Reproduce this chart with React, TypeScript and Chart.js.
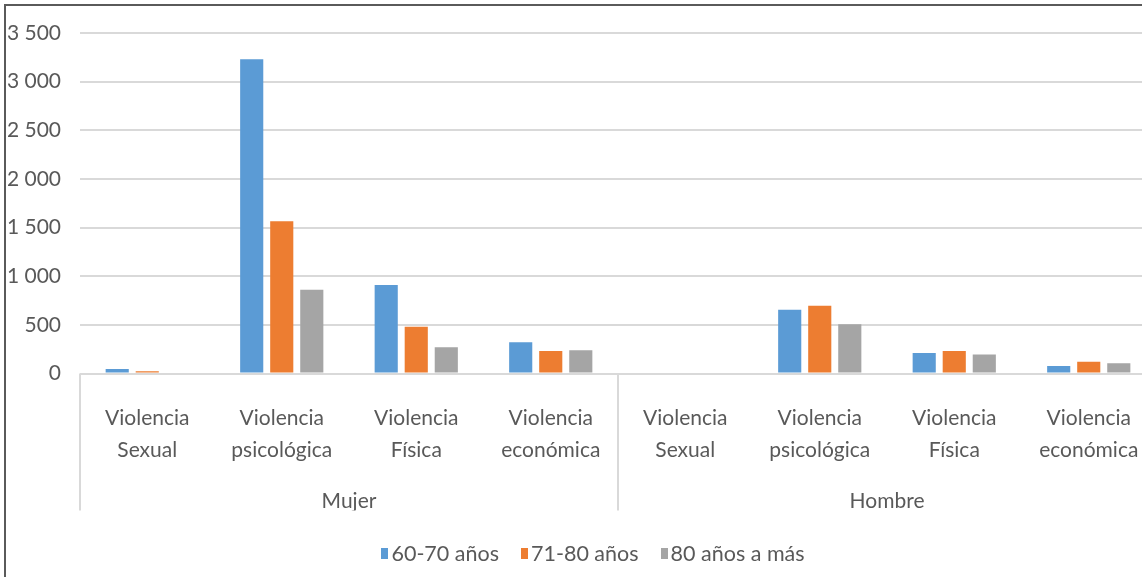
import React, { useEffect, useRef } from "react";
import { Chart, registerables } from "chart.js";

Chart.register(...registerables);

// Inner categories (two-line labels) and the outer grouping by sex
const violenceTypes: string[][] = [
  ["Violencia", "Sexual"],
  ["Violencia", "psicológica"],
  ["Violencia", "Física"],
  ["Violencia", "económica"],
  ["Violencia", "Sexual"],
  ["Violencia", "psicológica"],
  ["Violencia", "Física"],
  ["Violencia", "económica"],
];
const sexGroups = ["Mujer", "Hombre"];

// Age brackets and their counts per category
const ageGroups = ["60-70 años", "71-80 años", "80 años a más"];
const values60to70 = [45, 3230, 910, 320, 0, 655, 210, 78];
const values71to80 = [22, 1565, 480, 230, 0, 697, 230, 120];
const values80plus = [10, 860, 270, 240, 0, 505, 195, 105];

const yMax = 3500;
const yStep = 500;

const seriesColors = ["#5B9BD5", "#ED7D31", "#A5A5A5"];
const textColor = "#595959";
const lineColor = "#D9D9D9";
const fontFamily = "Lato, 'Noto Sans', sans-serif";

const formatThousands = (v: number) =>
  v >= 1000 ? `${Math.floor(v / 1000)} ${String(v % 1000).padStart(3, "0")}` : String(v);

// Vertical separators between the outer groups, spanning both label rows
const groupDividers = {
  id: "groupDividers",
  afterDraw(chart: any) {
    const outer = chart.scales.x2;
    const { ctx, chartArea } = chart;
    const n = sexGroups.length;
    const step = outer.width / n;
    ctx.save();
    ctx.strokeStyle = lineColor;
    ctx.lineWidth = 2;
    for (let i = 0; i <= n; i++) {
      const px = outer.left + step * i;
      ctx.beginPath();
      ctx.moveTo(px, chartArea.bottom);
      ctx.lineTo(px, outer.bottom);
      ctx.stroke();
    }
    ctx.restore();
  },
};

export default function App() {
  const canvasRef = useRef<HTMLCanvasElement | null>(null);

  useEffect(() => {
    if (!canvasRef.current) return;
    const seriesValues = [values60to70, values71to80, values80plus];
    const chart = new Chart(canvasRef.current, {
      type: "bar",
      data: {
        labels: violenceTypes,
        datasets: ageGroups.map((name, i) => ({
          label: name,
          data: seriesValues[i],
          backgroundColor: seriesColors[i],
          categoryPercentage: 0.67,
          barPercentage: 0.77,
        })),
      },
      plugins: [groupDividers],
      options: {
        animation: false,
        responsive: true,
        maintainAspectRatio: false,
        layout: { padding: { left: 8, top: 33, right: 14, bottom: 66.5 } },
        plugins: {
          legend: { display: false },
          tooltip: { enabled: false },
        },
        scales: {
          x: {
            type: "category",
            position: "bottom",
            grid: { display: false },
            border: { display: false },
            ticks: {
              color: textColor,
              font: { family: fontFamily, size: 21, lineHeight: 1.55 },
              padding: 20,
              maxRotation: 0,
              autoSkip: false,
            },
            afterFit: (scale: any) => {
              scale.height = 95;
            },
          },
          x2: {
            type: "category",
            position: "bottom",
            labels: sexGroups,
            weight: 1,
            grid: { display: false },
            border: { display: false },
            ticks: {
              color: textColor,
              font: { family: fontFamily, size: 21, lineHeight: 1.2 },
              padding: 12,
              maxRotation: 0,
            },
            afterFit: (scale: any) => {
              scale.height = 42;
            },
          },
          y: {
            min: 0,
            max: yMax,
            grid: { color: lineColor, lineWidth: 2, drawTicks: false },
            border: { display: false },
            ticks: {
              stepSize: yStep,
              color: textColor,
              font: { family: fontFamily, size: 21 },
              padding: 19,
              callback: (v: any) => formatThousands(Number(v)),
            },
            afterFit: (scale: any) => {
              scale.width = 72;
            },
          },
        },
      },
    });
    return () => chart.destroy();
  }, []);

  return (
    <div
      style={{
        position: "fixed",
        left: 0,
        top: 0,
        width: 1142,
        height: 577,
        overflow: "hidden",
        background: "#fff",
      }}
    >
      <div
        style={{
          position: "absolute",
          left: 4,
          top: 4,
          width: 1160,
          height: 600,
          borderTop: "2px solid #5a5a5a",
          borderLeft: "2px solid #5a5a5a",
        }}
      />
      <div style={{ position: "absolute", left: 0, top: 0, width: 1170, height: 577 }}>
        <canvas ref={canvasRef} />
      </div>
      <div
        style={{
          position: "absolute",
          left: 0,
          top: 541,
          width: 1186,
          height: 24,
          display: "flex",
          justifyContent: "center",
          alignItems: "center",
          gap: 22,
          fontFamily,
          fontSize: 21.5,
          color: textColor,
          lineHeight: "24px",
        }}
      >
        {ageGroups.map((name, i) => (
          <span key={name} style={{ display: "inline-flex", alignItems: "center" }}>
            <span
              style={{
                display: "inline-block",
                width: 7,
                height: 11,
                background: seriesColors[i],
                marginRight: 3,
              }}
            />
            {name}
          </span>
        ))}
      </div>
    </div>
  );
}
